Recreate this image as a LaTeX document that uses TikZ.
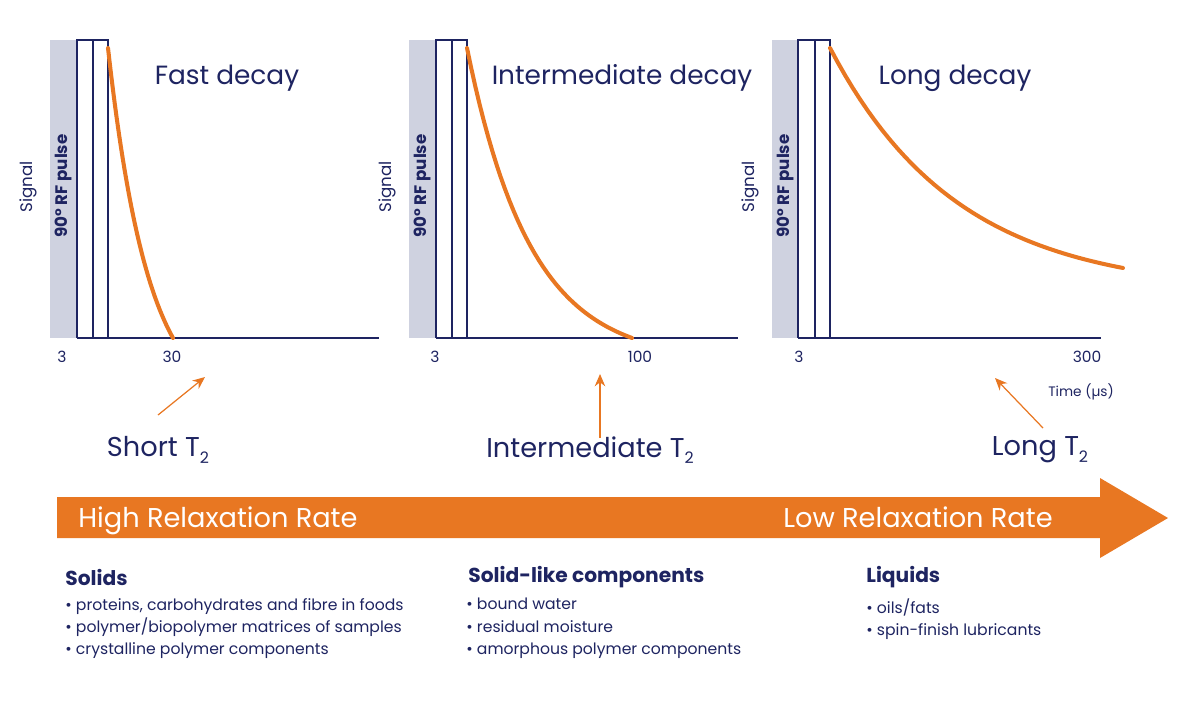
\documentclass[tikz,border=0pt]{standalone}
\usetikzlibrary{arrows.meta}
\usepackage{fontspec}
\setmainfont{Poppins}
\definecolor{navy}{HTML}{1E2461}
\definecolor{org}{HTML}{E87722}
\definecolor{pgray}{HTML}{CFD2E0}
\newcommand{\sub}[1]{\raisebox{-0.45ex}{\fontsize{9}{10}\selectfont #1}}
\begin{document}
\begin{tikzpicture}[x=0.02cm,y=-0.02cm,
  every node/.style={text=navy,inner sep=0pt},
  title/.style={font=\fontsize{15}{18}\selectfont},
  tick/.style={font=\fontsize{8.8}{10}\selectfont},
  small/.style={font=\fontsize{7.8}{9}\selectfont},
  tlab/.style={font=\fontsize{15.5}{18}\selectfont},
  head/.style={font=\fontsize{11.5}{13}\selectfont\bfseries,anchor=west},
  item/.style={font=\fontsize{8.9}{12.6}\selectfont,anchor=north west,align=left},
  frame/.style={draw=navy,line width=0.6pt},
  decay/.style={draw=org,line width=2.3pt,line cap=round},
  pointer/.style={draw=org,line width=0.7pt,-{Stealth[length=7pt,width=6pt]}},
  rate/.style={anchor=base west,text=white,font=\fontsize{15.5}{18}\selectfont}]
\useasboundingbox (0,0) rectangle (1200,708);
% panels
\foreach \g/\a/\b/\c/\e/\sx in {50/77/93/108/379/28, 409/436/452/467/738/387, 772/798/815/830/1101/750}{
  \fill[pgray] (\g,40) rectangle (\a,338);
  \draw[frame] (\a,338) -- (\a,40) -- (\c,40) -- (\c,338);
  \draw[frame] (\b,40) -- (\b,338);
  \draw[frame] (\a,338) -- (\e,338);
  \node[rotate=90,font=\fontsize{9.5}{10}\selectfont] at (\sx,187) {Signal};
  \node[rotate=90,font=\fontsize{9.5}{10}\selectfont\bfseries] at ({(\g+\a)/2},186) {90° RF pulse};
}
\draw[decay] plot[domain=0:1,samples=40,variable=\t] ({108+65*\t},{48+290*(1-exp(-1.6*\t))/(1-exp(-1.6))});
\draw[decay] plot[domain=0:1,samples=40,variable=\t] ({467+165*\t},{48+290*(1-exp(-2.6*\t))/(1-exp(-2.6))});
\draw[decay] plot[domain=0:1,samples=40,variable=\t] ({830+293*\t},{48+220*(1-exp(-2.3*\t))/(1-exp(-2.3))});
\node[title] (t1) at (227,78) {Fast decay};
\node[title] (t2) at (622,78) {Intermediate decay};
\node[title] (t3) at (955,78) {Long decay};
\node[tick] (n1) at (62,357) {3};
\node[tick] (n2) at (172,357) {30};
\node[tick] (n3) at (435,357) {3};
\node[tick] (n4) at (640,357) {100};
\node[tick] (n5) at (799,357) {3};
\node[tick] (n6) at (1087,357) {300};
\node[small] (tm) at (1081,392) {Time (µs)};
% T2 labels and pointers
\node[tlab] (s1) at (158,450) {Short T\sub{2}};
\node[tlab] (s2) at (590,450) {Intermediate T\sub{2}};
\node[tlab] (s3) at (1040,450) {Long T\sub{2}};
\coordinate (a1) at (205,377); \coordinate (b1) at (158,415);
\coordinate (a2) at (600,374); \coordinate (b2) at (600,438);
\coordinate (a3) at (995,378); \coordinate (b3) at (1043,428);
\draw[pointer] (b1) -- (a1);
\draw[pointer] (b2) -- (a2);
\draw[pointer] (b3) -- (a3);
% big arrow
\fill[org] (57,497) -- (1100,497) -- (1100,478) -- (1168,518) -- (1100,558) -- (1100,538) -- (57,538) -- cycle;
\node[rate] (hr) at (78,527) {High Relaxation Rate};
\node[rate] (lr) at (783,527) {Low Relaxation Rate};
% categories
\node[head] (h1) at (65,577) {Solids};
\node[item] (l1) at (65,598) {• proteins, carbohydrates and fibre in foods\\• polymer/biopolymer matrices of samples\\• crystalline polymer components};
\node[head] (h2) at (468,577) {Solid-like components};
\node[item] (l2) at (466,598) {• bound water\\• residual moisture\\• amorphous polymer components};
\node[head] (h3) at (866,577) {Liquids};
\node[item] (l3) at (866,598) {• oils/fats\\• spin-finish lubricants};
\end{tikzpicture}
\end{document}
